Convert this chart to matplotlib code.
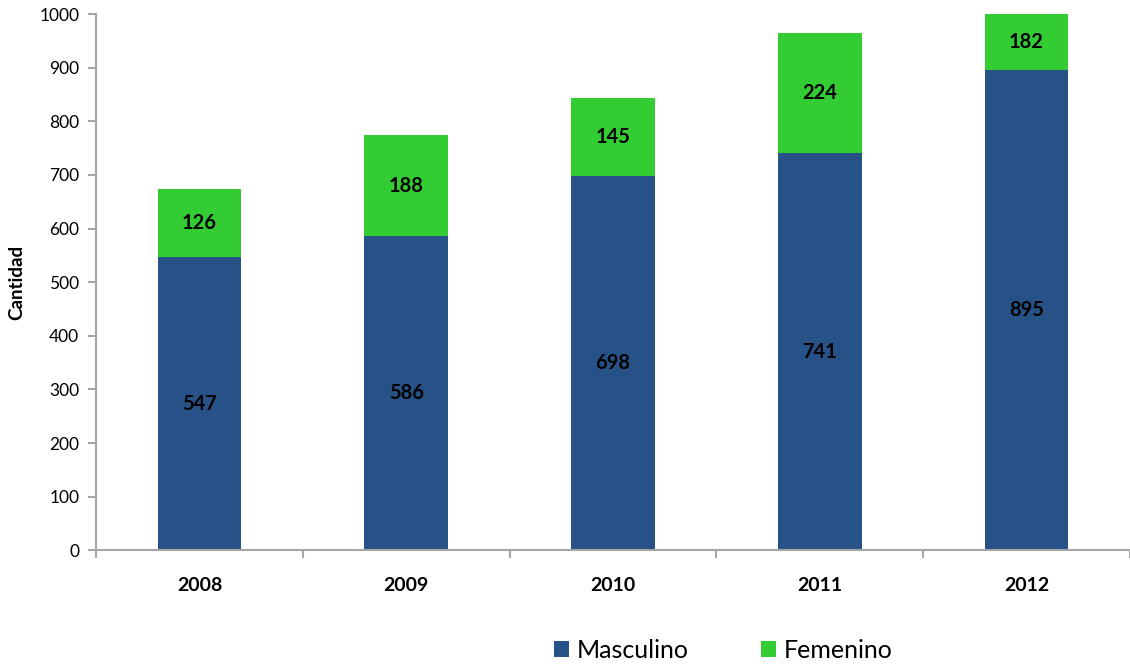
import matplotlib.pyplot as plt
import numpy as np

years = ["2008", "2009", "2010", "2011", "2012"]
masculino = [547, 586, 698, 741, 895]
femenino = [126, 188, 145, 224, 182]

plt.rcParams["font.family"] = ["Lato", "DejaVu Sans"]

blue = "#275287"
green = "#33cc33"
grey = "#a6a6a6"

fig = plt.figure(figsize=(11.3, 6.67), dpi=100)
ax = fig.add_axes([0.085, 0.175, 0.915, 0.804])

x = np.arange(len(years))
width = 0.405
ax.bar(x, masculino, width, color=blue, label="Masculino", zorder=2)
ax.bar(x, femenino, width, bottom=masculino, color=green, label="Femenino", zorder=2)

ymax = 1000
for i in range(len(years)):
    m = masculino[i]
    f = femenino[i]
    ax.text(x[i], m / 2, str(m), ha="center", va="center",
            fontsize=14.5, fontweight="bold", color="black", zorder=3)
    top = min(m + f, ymax)
    ax.text(x[i], (m + top) / 2, str(f), ha="center", va="center",
            fontsize=14.5, fontweight="bold", color="black", zorder=3)

ax.set_ylim(0, ymax)
ax.set_xlim(-0.5, len(years) - 0.5)
ax.set_yticks(range(0, 1001, 100))

# category boundaries carry the tick marks, labels sit in the middle
ax.set_xticks(np.arange(-0.5, len(years), 1.0))
ax.set_xticklabels([])
ax.set_xticks(x, minor=True)
ax.set_xticklabels(years, minor=True, fontsize=14, fontweight="bold")
ax.tick_params(axis="x", which="major", length=6, color=grey, width=1.5)
ax.tick_params(axis="x", which="minor", length=0, pad=19)
ax.tick_params(axis="y", length=6, color=grey, width=1.5, labelsize=12.5, pad=6)

for side in ["top", "right"]:
    ax.spines[side].set_visible(False)
for side in ["left", "bottom"]:
    ax.spines[side].set_color(grey)
    ax.spines[side].set_linewidth(1.5)

ax.set_ylabel("Cantidad", fontsize=13.5, fontweight="bold", labelpad=10)

fig.legend(loc="center", bbox_to_anchor=(0.64, 0.025), ncol=2, frameon=False,
           fontsize=18, handlelength=0.6, handleheight=0.6, columnspacing=2.9,
           handletextpad=0.3)

fig.savefig("out.png", dpi=100)
